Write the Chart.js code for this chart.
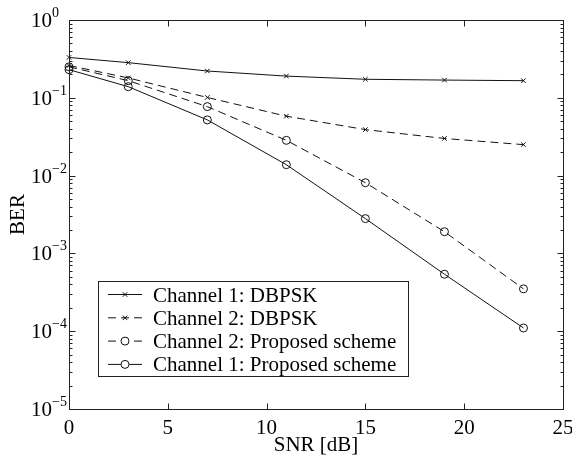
<!DOCTYPE html>
<html>
<head>
<meta charset="utf-8">
<script src="https://cdn.jsdelivr.net/npm/chart.js@4"></script>
<style>
  body { margin: 0; background: #fff; }
  #wrap { width: 572px; height: 458px; }
</style>
</head>
<body>
<div id="wrap"><canvas id="ber"></canvas></div>
<script>
// SNR points (dB) and BER curves
const snr = [0, 3, 7, 11, 15, 19, 23];
const ch1Dbpsk = [0.33, 0.283, 0.221, 0.19, 0.173, 0.169, 0.166];
const ch2Dbpsk = [0.26, 0.18, 0.101, 0.058, 0.039, 0.030, 0.025];
const ch2Proposed = [0.25, 0.166, 0.077, 0.0284, 0.0081, 0.0019, 0.00035];
const ch1Proposed = [0.23, 0.139, 0.052, 0.0138, 0.0028, 0.00054, 0.00011];

const xTicks = [0, 5, 10, 15, 20, 25];
const yExponents = [0, -1, -2, -3, -4, -5];

const labels = ['Channel 1: DBPSK', 'Channel 2: DBPSK', 'Channel 2: Proposed scheme', 'Channel 1: Proposed scheme'];

const ink = '#111';
const font = '"Liberation Serif", "Times New Roman", serif';

function pts(vals) {
  return snr.map((s, i) => ({ x: s, y: vals[i] }));
}

function serie(label, vals, dashed, marker) {
  return {
    label: label,
    data: pts(vals),
    borderColor: ink,
    borderWidth: 1,
    borderDash: dashed ? [8, 5] : [],
    pointStyle: marker,
    pointRadius: marker == 'circle' ? 4 : 3.2,
    pointBorderColor: ink,
    pointBackgroundColor: 'rgba(0,0,0,0)',
    pointBorderWidth: 1,
    fill: false,
    tension: 0,
    clip: false
  };
}

function line(ctx, x1, y1, x2, y2) {
  ctx.beginPath();
  ctx.moveTo(x1, y1);
  ctx.lineTo(x2, y2);
  ctx.stroke();
}

// box, inward ticks, labels and legend in the old plotting style
const axesPlugin = {
  id: 'axesPlugin',
  afterDatasetsDraw(chart) {
    const ctx = chart.ctx;
    const a = chart.chartArea;
    const x = chart.scales.x, y = chart.scales.y;
    ctx.save();
    ctx.strokeStyle = '#222';
    ctx.lineWidth = 1;
    ctx.setLineDash([]);
    const L = Math.round(a.left) + 0.5, R = Math.round(a.right) + 0.5;
    const T = Math.round(a.top) + 0.5, B = Math.round(a.bottom) + 0.5;
    ctx.strokeRect(L, T, R - L, B - T);

    // x ticks
    xTicks.forEach(v => {
      const px = Math.round(x.getPixelForValue(v)) + 0.5;
      line(ctx, px, B, px, B - 6);
      line(ctx, px, T, px, T + 6);
    });

    // y ticks, major and minor
    yExponents.forEach(e => {
      const base = Math.pow(10, e);
      const py = Math.round(y.getPixelForValue(base)) + 0.5;
      line(ctx, L, py, L + 6, py);
      line(ctx, R, py, R - 6, py);
      if (e > -5) {
        for (let m = 2; m <= 9; m++) {
          const q = Math.round(y.getPixelForValue(base / 10 * m)) + 0.5;
          line(ctx, L, q, L + 3, q);
          line(ctx, R, q, R - 3, q);
        }
      }
    });

    ctx.fillStyle = '#000';
    // x tick labels
    ctx.font = '21px ' + font;
    ctx.textAlign = 'center';
    ctx.textBaseline = 'alphabetic';
    xTicks.forEach(v => {
      ctx.fillText(String(v), x.getPixelForValue(v), B + 24);
    });

    // y tick labels as 10^n
    yExponents.forEach(e => {
      const py = y.getPixelForValue(Math.pow(10, e));
      ctx.font = '21px ' + font;
      ctx.textAlign = 'right';
      ctx.fillText('10', 52, py + 7);
      ctx.font = '14px ' + font;
      ctx.textAlign = 'left';
      ctx.fillText(e < 0 ? '\u2212' + (-e) : String(e), 52, py - 3);
    });

    // axis titles
    ctx.font = '21px ' + font;
    ctx.textAlign = 'center';
    ctx.fillText('SNR [dB]', (a.left + a.right) / 2, 451);
    ctx.save();
    ctx.translate(24, (a.top + a.bottom) / 2);
    ctx.rotate(-Math.PI / 2);
    ctx.fillText('BER', 0, 0);
    ctx.restore();

    // legend box
    const lx = 98.5, ly = 281.5, lw = 310, lh = 95;
    ctx.fillStyle = '#fff';
    ctx.fillRect(lx, ly, lw, lh);
    ctx.strokeStyle = '#222';
    ctx.strokeRect(lx, ly, lw, lh);
    chart.data.datasets.forEach((ds, i) => {
      const cy = 294.5 + i * 23.3;
      ctx.strokeStyle = ink;
      ctx.lineWidth = 1;
      ctx.setLineDash(ds.borderDash);
      line(ctx, 108, cy, 142, cy);
      ctx.setLineDash([]);
      // hollow marker on top of the sample line
      ctx.fillStyle = '#fff';
      ctx.strokeStyle = ink;
      Chart.helpers.drawPoint(ctx, {
        pointStyle: ds.pointStyle,
        radius: ds.pointRadius,
        borderWidth: 1
      }, 125, cy);
      ctx.fillStyle = '#000';
      ctx.font = '21px ' + font;
      ctx.textAlign = 'left';
      ctx.fillText(ds.label, 153, cy + 7);
    });
    ctx.restore();
  }
};

new Chart(document.getElementById('ber').getContext('2d'), {
  type: 'line',
  data: {
    datasets: [
      serie(labels[0], ch1Dbpsk, false, 'crossRot'),
      serie(labels[1], ch2Dbpsk, true, 'crossRot'),
      serie(labels[2], ch2Proposed, true, 'circle'),
      serie(labels[3], ch1Proposed, false, 'circle')
    ]
  },
  options: {
    responsive: true,
    maintainAspectRatio: false,
    animation: false,
    layout: { padding: { left: 69, top: 20, right: 9, bottom: 49 } },
    plugins: { legend: { display: false }, tooltip: { enabled: false } },
    scales: {
      x: { type: 'linear', min: 0, max: 25, display: false },
      y: { type: 'logarithmic', min: 1e-5, max: 1, display: false }
    }
  },
  plugins: [axesPlugin]
});
</script>
</body>
</html>
